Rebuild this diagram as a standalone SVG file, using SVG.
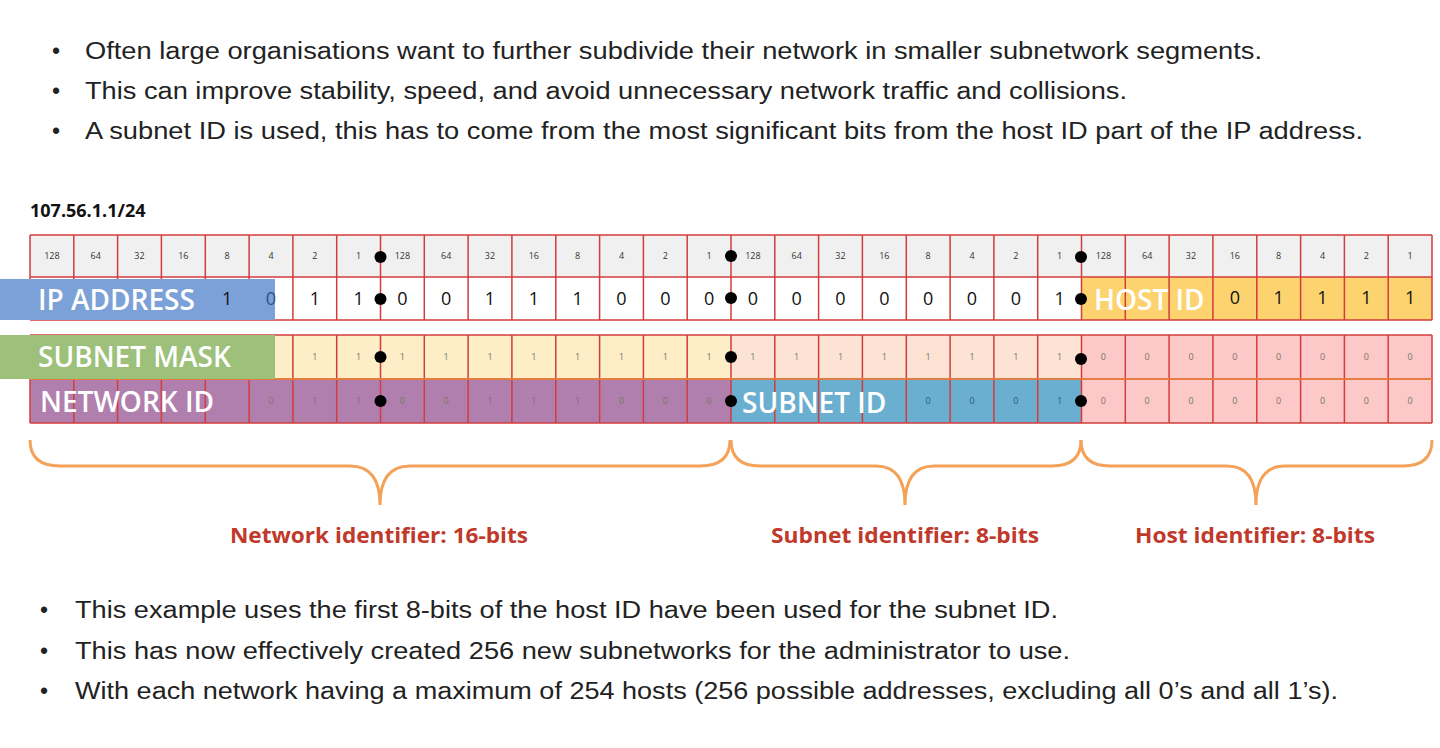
<svg xmlns="http://www.w3.org/2000/svg" width="1440" height="748" viewBox="0 0 1440 748">
<style>
.b{font-family:"Liberation Sans",Arial,sans-serif;font-size:23px;fill:#222}
.h{font-family:"Open Sans",sans-serif;font-size:9px;fill:#333;text-anchor:middle}
.v{font-family:"Open Sans",sans-serif;font-size:18px;fill:#111;text-anchor:middle}
.m{font-family:"Open Sans",sans-serif;font-size:9px;fill:#776;text-anchor:middle}
.lab{font-family:"Open Sans",sans-serif;font-size:28px;font-weight:600;fill:#fff}
.br{fill:none;stroke:#f4a259;stroke-width:3}
.bl{font-family:"Open Sans",sans-serif;font-weight:bold;font-size:21px;fill:#c0392b;text-anchor:middle}
.dot{fill:#000}
</style>
<g id="bullets-top" class="b">
<text x="52" y="59">•</text><text x="85" y="59" textLength="1177" lengthAdjust="spacingAndGlyphs">Often large organisations want to further subdivide their network in smaller subnetwork segments.</text>
<text x="52" y="99">•</text><text x="85" y="99" textLength="1042" lengthAdjust="spacingAndGlyphs">This can improve stability, speed, and avoid unnecessary network traffic and collisions.</text>
<text x="52" y="139">•</text><text x="85" y="139" textLength="1278" lengthAdjust="spacingAndGlyphs">A subnet ID is used, this has to come from the most significant bits from the host ID part of the IP address.</text>
</g>
<text id="title" x="30" y="217" font-family="'Open Sans',sans-serif" font-weight="bold" font-size="18" fill="#111">107.56.1.1/24</text>
<g id="grid">
<rect x="30" y="235" width="1402" height="42" fill="#f0f0f0"/>
<rect x="30" y="277" width="1402" height="43" fill="#fff"/>
<rect x="1081" y="277" width="351" height="43" fill="#fdd36f"/>
<rect x="30" y="335" width="701" height="44" fill="#fdeec8"/>
<rect x="731" y="335" width="350" height="44" fill="#fde3d3"/>
<rect x="1081" y="335" width="351" height="88" fill="#fcc8c8"/>
<rect x="30" y="379" width="701" height="44" fill="#b07fae"/>
<rect x="731" y="379" width="350" height="44" fill="#6aaed0"/>
<path fill="none" stroke="#d33c3c" stroke-width="1.5" d="M30 235H1432M30 277H1432M30 320H1432M30 335H1432M30 379H1432M30 423H1432
M30 235V320M73.8 235V320M117.6 235V320M161.4 235V320M205.3 235V320M249.1 235V320M292.9 235V320M336.7 235V320M380.5 235V320M424.3 235V320M468.1 235V320M511.9 235V320M555.8 235V320M599.6 235V320M643.4 235V320M687.2 235V320M731 235V320M774.8 235V320M818.6 235V320M862.4 235V320M906.3 235V320M950.1 235V320M993.9 235V320M1037.7 235V320M1081.5 235V320M1125.3 235V320M1169.1 235V320M1212.9 235V320M1256.8 235V320M1300.6 235V320M1344.4 235V320M1388.2 235V320M1432 235V320
M30 335V423M73.8 335V423M117.6 335V423M161.4 335V423M205.3 335V423M249.1 335V423M292.9 335V423M336.7 335V423M380.5 335V423M424.3 335V423M468.1 335V423M511.9 335V423M555.8 335V423M599.6 335V423M643.4 335V423M687.2 335V423M731 335V423M774.8 335V423M818.6 335V423M862.4 335V423M906.3 335V423M950.1 335V423M993.9 335V423M1037.7 335V423M1081.5 335V423M1125.3 335V423M1169.1 335V423M1212.9 335V423M1256.8 335V423M1300.6 335V423M1344.4 335V423M1388.2 335V423M1432 335V423"/>
<path fill="none" stroke="#e9893a" stroke-width="1.5" d="M30 379H1432"/>
</g>
<g id="header-row" class="h">
<text x="51.9" y="259">128</text><text x="95.7" y="259">64</text><text x="139.5" y="259">32</text><text x="183.3" y="259">16</text><text x="227.2" y="259">8</text><text x="271" y="259">4</text><text x="314.8" y="259">2</text><text x="358.6" y="259">1</text>
<text x="402.4" y="259">128</text><text x="446.2" y="259">64</text><text x="490" y="259">32</text><text x="533.8" y="259">16</text><text x="577.7" y="259">8</text><text x="621.5" y="259">4</text><text x="665.3" y="259">2</text><text x="709.1" y="259">1</text>
<text x="752.9" y="259">128</text><text x="796.7" y="259">64</text><text x="840.5" y="259">32</text><text x="884.3" y="259">16</text><text x="928.2" y="259">8</text><text x="972" y="259">4</text><text x="1015.8" y="259">2</text><text x="1059.6" y="259">1</text>
<text x="1103.4" y="259">128</text><text x="1147.2" y="259">64</text><text x="1191" y="259">32</text><text x="1234.8" y="259">16</text><text x="1278.7" y="259">8</text><text x="1322.5" y="259">4</text><text x="1366.3" y="259">2</text><text x="1410.1" y="259">1</text>
</g>
<g id="ip-row">
<rect x="0" y="279" width="275" height="41" fill="#7ba1d8"/>
<g class="v">
<text x="227.2" y="305">1</text><text x="271" y="305" fill="#2c4f8a">0</text><text x="314.8" y="305">1</text><text x="358.6" y="305">1</text>
<text x="402.4" y="305">0</text><text x="446.2" y="305">0</text><text x="490" y="305">1</text><text x="533.8" y="305">1</text><text x="577.7" y="305">1</text><text x="621.5" y="305">0</text><text x="665.3" y="305">0</text><text x="709.1" y="305">0</text>
<text x="752.9" y="305">0</text><text x="796.7" y="305">0</text><text x="840.5" y="305">0</text><text x="884.3" y="305">0</text><text x="928.2" y="305">0</text><text x="972" y="305">0</text><text x="1015.8" y="305">0</text><text x="1059.6" y="305">1</text>
</g>
<g class="v" font-size="14" fill="#8a6a10">
<text x="1234.8" y="304">0</text><text x="1278.7" y="304">1</text><text x="1322.5" y="304">1</text><text x="1366.3" y="304">1</text><text x="1410.1" y="304">1</text>
</g>
<text class="lab" x="38" y="310">IP ADDRESS</text>
<text class="lab" x="1094" y="310">HOST ID</text>
</g>
<g id="mask-row">
<rect x="0" y="335" width="275" height="44" fill="#9dc07a"/>
<g class="m">
<text x="314.8" y="360">1</text><text x="358.6" y="360">1</text><text x="402.4" y="360">1</text><text x="446.2" y="360">1</text><text x="490" y="360">1</text><text x="533.8" y="360">1</text><text x="577.7" y="360">1</text><text x="621.5" y="360">1</text><text x="665.3" y="360">1</text><text x="709.1" y="360">1</text>
<text x="752.9" y="360">1</text><text x="796.7" y="360">1</text><text x="840.5" y="360">1</text><text x="884.3" y="360">1</text><text x="928.2" y="360">1</text><text x="972" y="360">1</text><text x="1015.8" y="360">1</text><text x="1059.6" y="360">1</text>
<text x="1103.4" y="360">0</text><text x="1147.2" y="360">0</text><text x="1191" y="360">0</text><text x="1234.8" y="360">0</text><text x="1278.7" y="360">0</text><text x="1322.5" y="360">0</text><text x="1366.3" y="360">0</text><text x="1410.1" y="360">0</text>
</g>
<text class="lab" x="38" y="367">SUBNET MASK</text>
</g>
<g id="network-row">
<g class="m" fill="#5a3a58">
<text x="271" y="404">0</text><text x="314.8" y="404">1</text><text x="358.6" y="404">1</text><text x="402.4" y="404">0</text><text x="446.2" y="404">0</text><text x="490" y="404">1</text><text x="533.8" y="404">1</text><text x="577.7" y="404">1</text><text x="621.5" y="404">0</text><text x="665.3" y="404">0</text><text x="709.1" y="404">0</text>
<text x="928.2" y="404" fill="#2a5a78">0</text><text x="972" y="404" fill="#2a5a78">0</text><text x="1015.8" y="404" fill="#2a5a78">0</text><text x="1059.6" y="404" fill="#2a5a78">1</text>
<text x="1103.4" y="404" fill="#776">0</text><text x="1147.2" y="404" fill="#776">0</text><text x="1191" y="404" fill="#776">0</text><text x="1234.8" y="404" fill="#776">0</text><text x="1278.7" y="404" fill="#776">0</text><text x="1322.5" y="404" fill="#776">0</text><text x="1366.3" y="404" fill="#776">0</text><text x="1410.1" y="404" fill="#776">0</text>
</g>
<text class="lab" x="40" y="412">NETWORK ID</text>
<text class="lab" x="742" y="413">SUBNET ID</text>
</g>
<g id="dots" class="dot">
<circle cx="380.5" cy="257" r="6"/><circle cx="380.5" cy="299" r="6"/><circle cx="380.5" cy="357" r="6"/><circle cx="380.5" cy="401" r="6"/>
<circle cx="731" cy="256" r="6"/><circle cx="731" cy="298" r="6"/><circle cx="731" cy="357" r="6"/><circle cx="731" cy="401" r="6"/>
<circle cx="1081" cy="257" r="6"/><circle cx="1081" cy="299" r="6"/><circle cx="1081" cy="359" r="6"/><circle cx="1081" cy="401" r="6"/>
</g>
<g id="connectors">
<path class="br" d="M30 440Q30 466 60 466H350Q380 466 380 505Q380 466 410 466H700Q730 466 730 440"/>
<path class="br" d="M731 440Q731 466 760 466H876Q905 466 905 505Q905 466 934 466H1052Q1081 466 1081 440"/>
<path class="br" d="M1081 440Q1081 466 1110 466H1227Q1256 466 1256 505Q1256 466 1285 466H1403Q1432 466 1432 440"/>
</g>
<g id="brace-labels" class="bl">
<text x="379" y="543" textLength="298" lengthAdjust="spacingAndGlyphs">Network identifier: 16-bits</text>
<text x="905" y="543" textLength="268" lengthAdjust="spacingAndGlyphs">Subnet identifier: 8-bits</text>
<text x="1255" y="543" textLength="240" lengthAdjust="spacingAndGlyphs">Host identifier: 8-bits</text>
</g>
<g id="bullets-bottom" class="b">
<text x="40" y="618">•</text><text x="75" y="618" textLength="983" lengthAdjust="spacingAndGlyphs">This example uses the first 8-bits of the host ID have been used for the subnet ID.</text>
<text x="40" y="659">•</text><text x="75" y="659" textLength="995" lengthAdjust="spacingAndGlyphs">This has now effectively created 256 new subnetworks for the administrator to use.</text>
<text x="40" y="699">•</text><text x="75" y="699" textLength="1263" lengthAdjust="spacingAndGlyphs">With each network having a maximum of 254 hosts (256 possible addresses, excluding all 0’s and all 1’s).</text>
</g>
</svg>
